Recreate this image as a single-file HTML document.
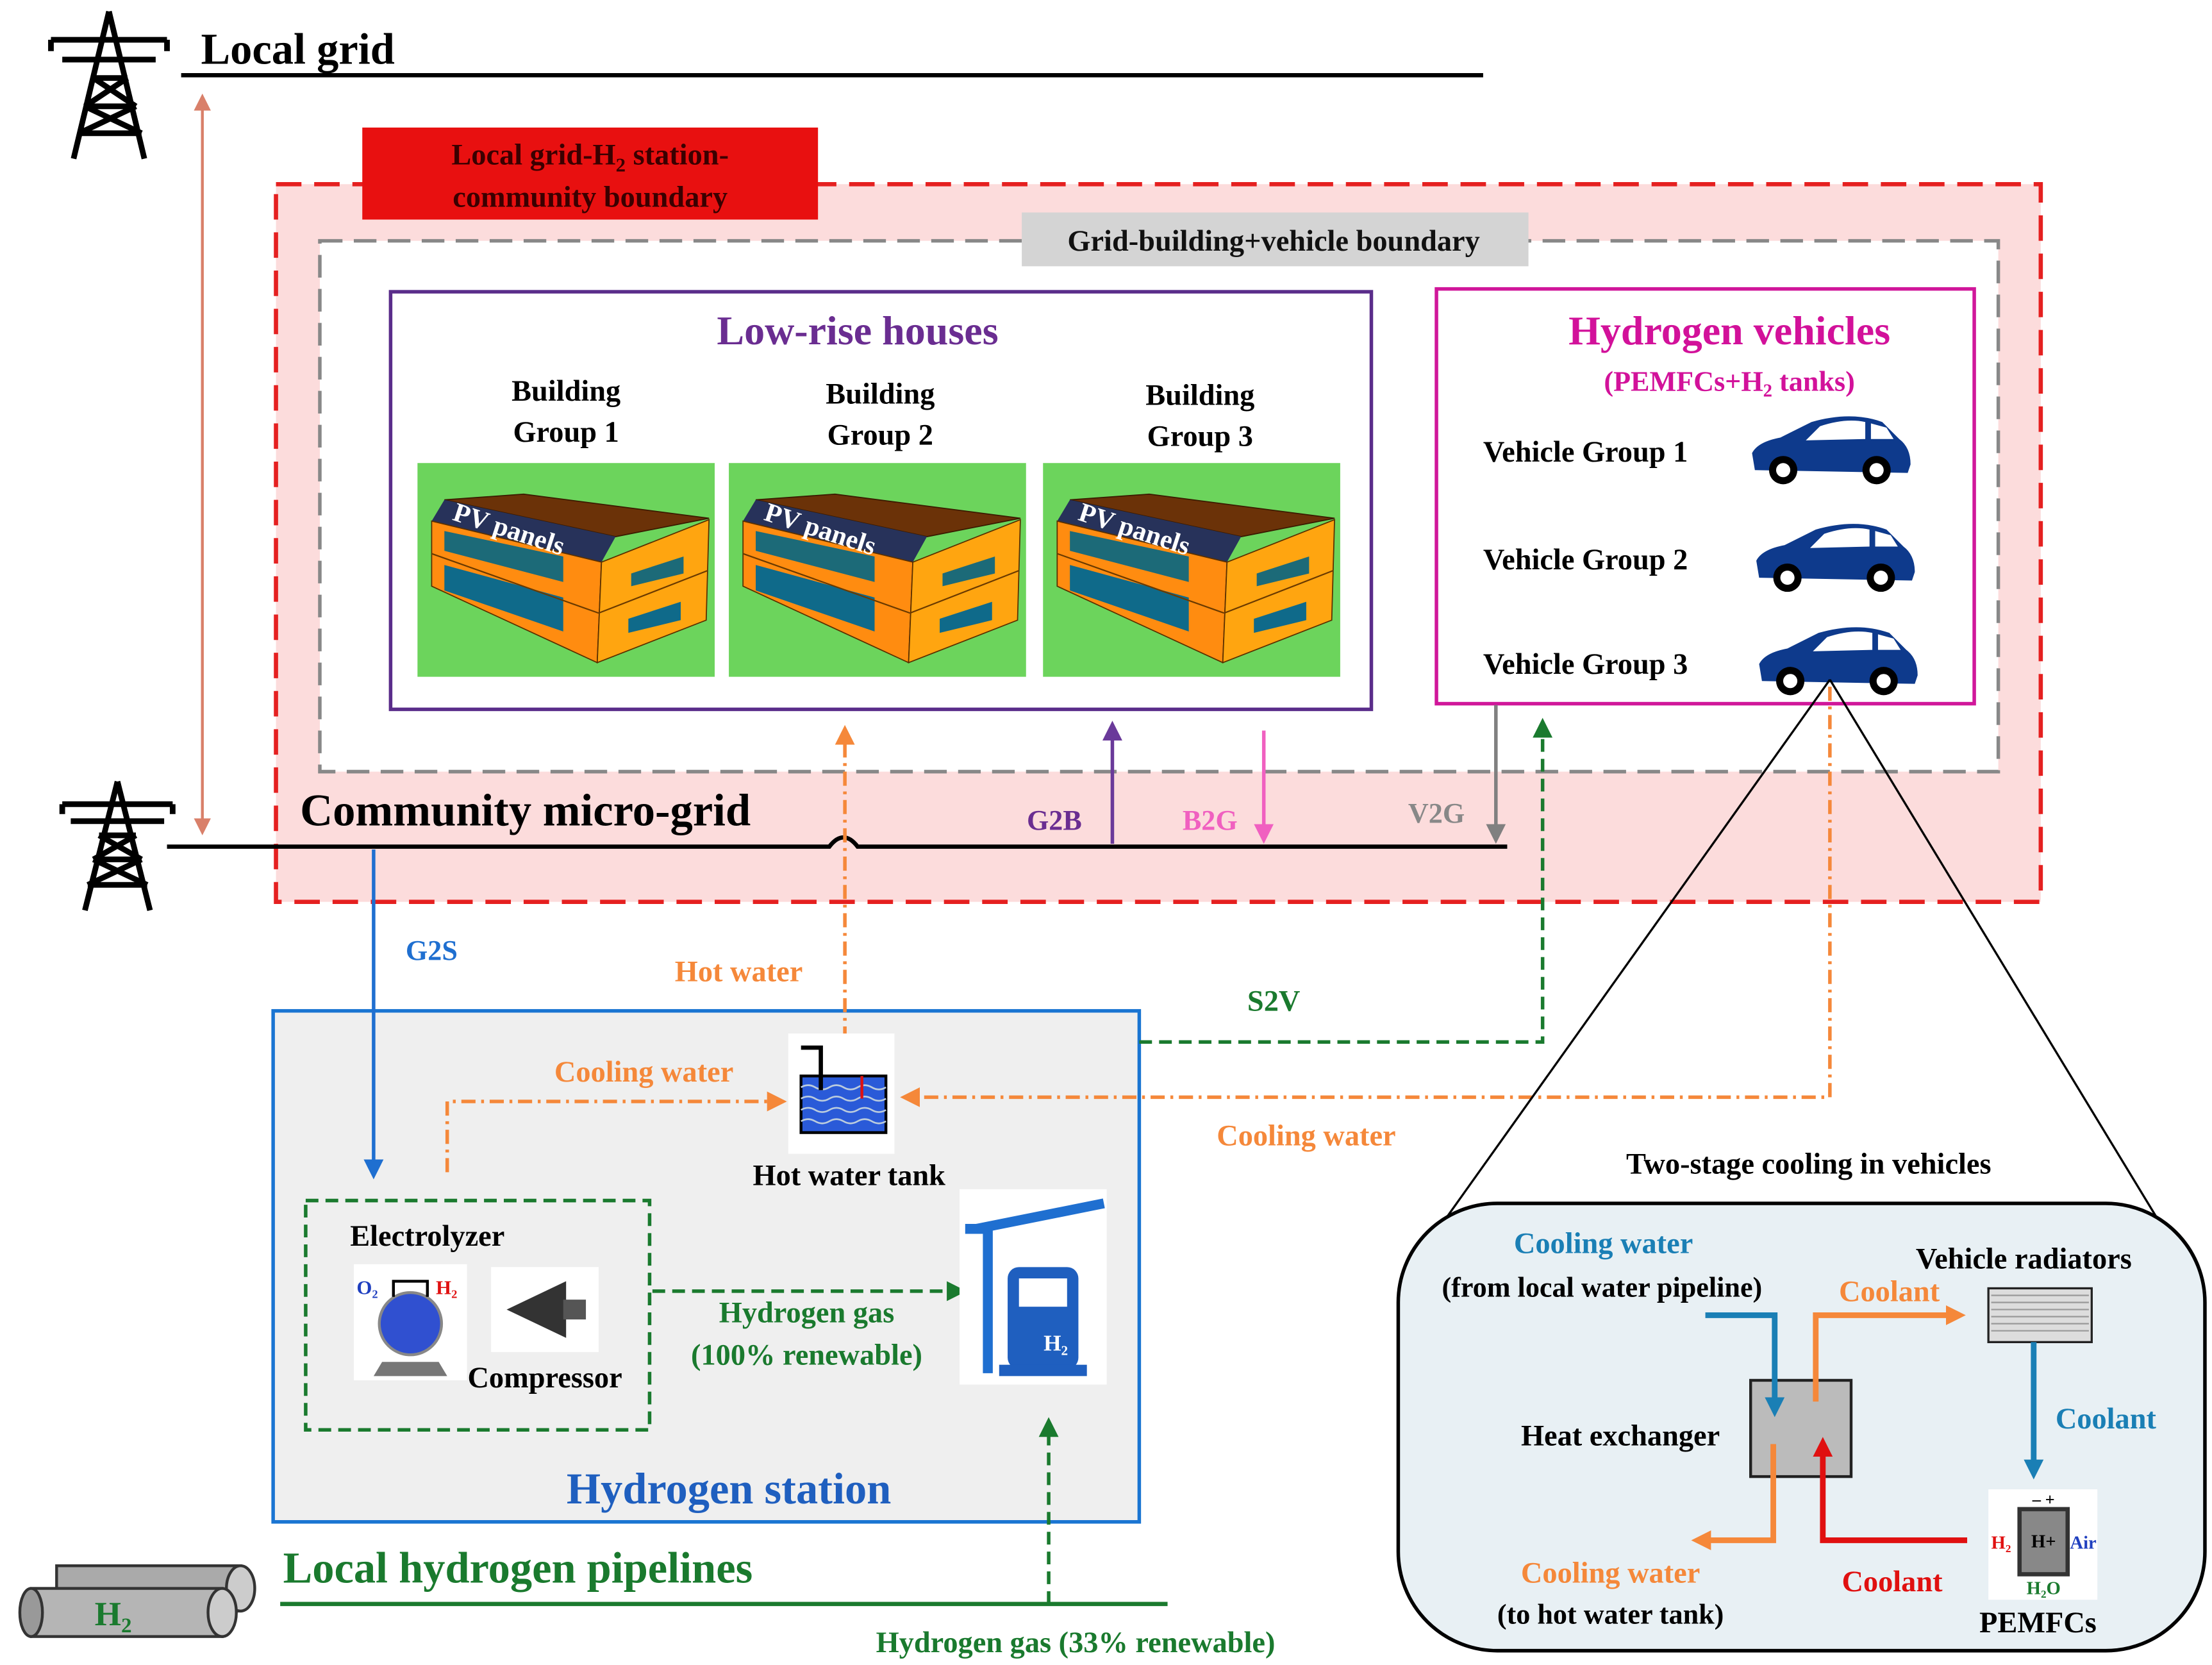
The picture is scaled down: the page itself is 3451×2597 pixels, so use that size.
<!DOCTYPE html>
<html><head><meta charset="utf-8"><style>
html,body{margin:0;padding:0;background:#fff;}
svg{display:block;}
text{font-family:"Liberation Serif",serif;font-weight:bold;}
</style></head><body>
<svg width="3451" height="2597" viewBox="0 0 1563 1176" xmlns="http://www.w3.org/2000/svg">
<defs>
<marker id="aOL" viewBox="0 0 10 10" markerWidth="14" markerHeight="14" refX="5" refY="5" orient="auto" markerUnits="userSpaceOnUse"><path d="M0,0 L10,5 L0,10z" fill="#f5883a"/></marker>
<marker id="aG" viewBox="0 0 10 10" markerWidth="14" markerHeight="14" refX="5" refY="5" orient="auto" markerUnits="userSpaceOnUse"><path d="M0,0 L10,5 L0,10z" fill="#1a7a2e"/></marker>
<marker id="aB" viewBox="0 0 10 10" markerWidth="14" markerHeight="14" refX="5" refY="5" orient="auto" markerUnits="userSpaceOnUse"><path d="M0,0 L10,5 L0,10z" fill="#1f6fd0"/></marker>
<marker id="aBl" viewBox="0 0 10 10" markerWidth="14" markerHeight="14" refX="5" refY="5" orient="auto" markerUnits="userSpaceOnUse"><path d="M0,0 L10,5 L0,10z" fill="#1a7fb5"/></marker>
<marker id="aP" viewBox="0 0 10 10" markerWidth="14" markerHeight="14" refX="5" refY="5" orient="auto" markerUnits="userSpaceOnUse"><path d="M0,0 L10,5 L0,10z" fill="#6a3a9a"/></marker>
<marker id="aPk" viewBox="0 0 10 10" markerWidth="14" markerHeight="14" refX="5" refY="5" orient="auto" markerUnits="userSpaceOnUse"><path d="M0,0 L10,5 L0,10z" fill="#f060c0"/></marker>
<marker id="aGr" viewBox="0 0 10 10" markerWidth="14" markerHeight="14" refX="5" refY="5" orient="auto" markerUnits="userSpaceOnUse"><path d="M0,0 L10,5 L0,10z" fill="#808080"/></marker>
<marker id="aR" viewBox="0 0 10 10" markerWidth="14" markerHeight="14" refX="5" refY="5" orient="auto" markerUnits="userSpaceOnUse"><path d="M0,0 L10,5 L0,10z" fill="#e01010"/></marker>
<marker id="aS" viewBox="0 0 10 10" markerWidth="12" markerHeight="12" refX="5" refY="5" orient="auto-start-reverse" markerUnits="userSpaceOnUse"><path d="M0,0 L10,5 L0,10z" fill="#d9806a"/></marker>
</defs>

<g stroke="#000" stroke-width="4" fill="none">
<path d="M77,8 L52,112 M77,8 L102,112 M36,28 L118,28 M44,42 L110,42 M66,55 L90,55 M60,75 L96,75 M56,94 L100,94 M66,55 L96,75 M90,55 L60,75 M60,75 L100,94 M96,75 L56,94 M36,28 L36,36 M118,28 L118,36"/>
</g>
<text x="142" y="45" font-size="31">Local grid</text>
<line x1="128" y1="53" x2="1048" y2="53" stroke="#000" stroke-width="3"/>

<rect x="195" y="130" width="1247" height="507" fill="#fcdcdc" stroke="#e52020" stroke-width="3" stroke-dasharray="18,9"/>
<rect x="256" y="90" width="322" height="65" fill="#e81010"/>
<text x="417" y="116" font-size="21" text-anchor="middle" fill="#3a0000">Local grid-H<tspan font-size="14" dy="5">2</tspan><tspan dy="-5"> station-</tspan></text>
<text x="417" y="146" font-size="21" text-anchor="middle" fill="#3a0000">community boundary</text>

<rect x="226" y="170" width="1186" height="375" fill="#fff" stroke="#888" stroke-width="2.5" stroke-dasharray="16,8"/>
<rect x="722" y="150" width="358" height="38" fill="#d4d4d4"/>
<text x="900" y="177" font-size="21" text-anchor="middle" fill="#111">Grid-building+vehicle boundary</text>

<rect x="276" y="206" width="693" height="295" fill="#fff" stroke="#5a2d8a" stroke-width="2.5"/>
<text x="606" y="243" font-size="29" text-anchor="middle" fill="#6a2d91">Low-rise houses</text>
<g font-size="21" text-anchor="middle" fill="#000">
<text x="400" y="283">Building</text><text x="400" y="312">Group 1</text>
<text x="622" y="285">Building</text><text x="622" y="314">Group 2</text>
<text x="848" y="286">Building</text><text x="848" y="315">Group 3</text>
</g>

<g transform="translate(295,327)">
<rect width="210" height="151" fill="#6cd45c"/>
<polygon points="75,22 206,39 140,52 19,26" fill="#6b3208" stroke="#3a1a00" stroke-width="0.8"/>
<polygon points="19,26 140,52 130,70 10,41" fill="#27325a"/>
<polygon points="10,41 130,70 127,141 10,87" fill="#ff8c10" stroke="#5a3000" stroke-width="0.8"/>
<polygon points="130,70 206,40 204,111 127,141" fill="#ffa510" stroke="#5a3000" stroke-width="0.8"/>
<polygon points="19,48 103,66 103,84 19,62" fill="#1c6a78"/>
<polygon points="19,72 103,95 103,119 19,90" fill="#0f6a8a"/>
<polygon points="151,78 188,66 188,78 151,87" fill="#1c6a78"/>
<polygon points="149,110 186,98 186,111 149,120" fill="#0f6a8a"/>
<line x1="10" y1="64" x2="128" y2="106" stroke="#6a3a00" stroke-width="1"/>
<line x1="128" y1="106" x2="205" y2="76" stroke="#6a3a00" stroke-width="1"/>
<text x="24" y="40" font-size="19" font-weight="normal" fill="#fff" transform="rotate(18 24 40)">PV panels</text>
</g>
<g transform="translate(515,327)">
<rect width="210" height="151" fill="#6cd45c"/>
<polygon points="75,22 206,39 140,52 19,26" fill="#6b3208" stroke="#3a1a00" stroke-width="0.8"/>
<polygon points="19,26 140,52 130,70 10,41" fill="#27325a"/>
<polygon points="10,41 130,70 127,141 10,87" fill="#ff8c10" stroke="#5a3000" stroke-width="0.8"/>
<polygon points="130,70 206,40 204,111 127,141" fill="#ffa510" stroke="#5a3000" stroke-width="0.8"/>
<polygon points="19,48 103,66 103,84 19,62" fill="#1c6a78"/>
<polygon points="19,72 103,95 103,119 19,90" fill="#0f6a8a"/>
<polygon points="151,78 188,66 188,78 151,87" fill="#1c6a78"/>
<polygon points="149,110 186,98 186,111 149,120" fill="#0f6a8a"/>
<line x1="10" y1="64" x2="128" y2="106" stroke="#6a3a00" stroke-width="1"/>
<line x1="128" y1="106" x2="205" y2="76" stroke="#6a3a00" stroke-width="1"/>
<text x="24" y="40" font-size="19" font-weight="normal" fill="#fff" transform="rotate(18 24 40)">PV panels</text>
</g>
<g transform="translate(737,327)">
<rect width="210" height="151" fill="#6cd45c"/>
<polygon points="75,22 206,39 140,52 19,26" fill="#6b3208" stroke="#3a1a00" stroke-width="0.8"/>
<polygon points="19,26 140,52 130,70 10,41" fill="#27325a"/>
<polygon points="10,41 130,70 127,141 10,87" fill="#ff8c10" stroke="#5a3000" stroke-width="0.8"/>
<polygon points="130,70 206,40 204,111 127,141" fill="#ffa510" stroke="#5a3000" stroke-width="0.8"/>
<polygon points="19,48 103,66 103,84 19,62" fill="#1c6a78"/>
<polygon points="19,72 103,95 103,119 19,90" fill="#0f6a8a"/>
<polygon points="151,78 188,66 188,78 151,87" fill="#1c6a78"/>
<polygon points="149,110 186,98 186,111 149,120" fill="#0f6a8a"/>
<line x1="10" y1="64" x2="128" y2="106" stroke="#6a3a00" stroke-width="1"/>
<line x1="128" y1="106" x2="205" y2="76" stroke="#6a3a00" stroke-width="1"/>
<text x="24" y="40" font-size="19" font-weight="normal" fill="#fff" transform="rotate(18 24 40)">PV panels</text>
</g>

<rect x="1015" y="204" width="380" height="293" fill="#fff" stroke="#d0179a" stroke-width="2.5"/>
<text x="1222" y="243" font-size="29" text-anchor="middle" fill="#d2119a">Hydrogen vehicles</text>
<text x="1222" y="276" font-size="20" text-anchor="middle" fill="#d2119a">(PEMFCs+H<tspan font-size="13" dy="4">2</tspan><tspan dy="-4"> tanks)</tspan></text>
<g font-size="21" fill="#000">
<text x="1048" y="326">Vehicle Group 1</text>
<text x="1048" y="402">Vehicle Group 2</text>
<text x="1048" y="476">Vehicle Group 3</text>
</g>
<g transform="translate(1238,292)">
<path d="M2,40 L0,28 Q4,20 20,17 L42,6 Q70,-2 92,6 L104,18 Q112,24 112,36 L110,42 Z" fill="#0e3a8c"/>
<path d="M48,9 Q66,3 80,6 L80,18 L38,19 Z M84,7 L95,10 L100,18 L84,18Z" fill="#fff"/>
<circle cx="22" cy="40" r="10" fill="#000"/><circle cx="22" cy="40" r="5" fill="#fff"/>
<circle cx="88" cy="40" r="10" fill="#000"/><circle cx="88" cy="40" r="5" fill="#fff"/>
</g>
<g transform="translate(1241,368)">
<path d="M2,40 L0,28 Q4,20 20,17 L42,6 Q70,-2 92,6 L104,18 Q112,24 112,36 L110,42 Z" fill="#0e3a8c"/>
<path d="M48,9 Q66,3 80,6 L80,18 L38,19 Z M84,7 L95,10 L100,18 L84,18Z" fill="#fff"/>
<circle cx="22" cy="40" r="10" fill="#000"/><circle cx="22" cy="40" r="5" fill="#fff"/>
<circle cx="88" cy="40" r="10" fill="#000"/><circle cx="88" cy="40" r="5" fill="#fff"/>
</g>
<g transform="translate(1243,441)">
<path d="M2,40 L0,28 Q4,20 20,17 L42,6 Q70,-2 92,6 L104,18 Q112,24 112,36 L110,42 Z" fill="#0e3a8c"/>
<path d="M48,9 Q66,3 80,6 L80,18 L38,19 Z M84,7 L95,10 L100,18 L84,18Z" fill="#fff"/>
<circle cx="22" cy="40" r="10" fill="#000"/><circle cx="22" cy="40" r="5" fill="#fff"/>
<circle cx="88" cy="40" r="10" fill="#000"/><circle cx="88" cy="40" r="5" fill="#fff"/>
</g>

<line x1="143" y1="72" x2="143" y2="584" stroke="#d9806a" stroke-width="2" marker-start="url(#aS)" marker-end="url(#aS)"/>

<g stroke="#000" stroke-width="4" fill="none">
<path d="M83,552 L60,643 M83,552 L106,643 M44,568 L122,568 M50,580 L116,580 M70,590 L96,590 M66,607 L100,607 M62,625 L104,625 M70,590 L100,607 M96,590 L66,607 M66,607 L104,625 M100,607 L62,625 M44,568 L44,575 M122,568 L122,575"/>
</g>
<text x="212" y="583" font-size="32" fill="#000">Community micro-grid</text>
<path d="M118,598 L586,598 Q596,585 606,598 L1065,598" stroke="#000" stroke-width="3" fill="none"/>

<line x1="786" y1="596" x2="786" y2="516" stroke="#6a3a9a" stroke-width="2.5" marker-end="url(#aP)"/>
<text x="745" y="586" font-size="20" text-anchor="middle" fill="#6a2d91">G2B</text>
<line x1="893" y1="516" x2="893" y2="589" stroke="#f060c0" stroke-width="2.5" marker-end="url(#aPk)"/>
<text x="855" y="586" font-size="20" text-anchor="middle" fill="#f060c0">B2G</text>
<line x1="1057" y1="498" x2="1057" y2="589" stroke="#808080" stroke-width="2.5" marker-end="url(#aGr)"/>
<text x="1015" y="581" font-size="20" text-anchor="middle" fill="#888">V2G</text>

<rect x="193" y="714" width="612" height="361" fill="#efefef" stroke="#1a75d2" stroke-width="2.5"/>
<text x="515" y="1062" font-size="31" text-anchor="middle" fill="#1f5fbf">Hydrogen station</text>

<line x1="264" y1="600" x2="264" y2="826" stroke="#1f6fd0" stroke-width="2.5" marker-end="url(#aB)"/>
<text x="305" y="678" font-size="20" text-anchor="middle" fill="#1f6fd0">G2S</text>

<line x1="597" y1="735" x2="597" y2="519" stroke="#f5883a" stroke-width="2.5" stroke-dasharray="10,4,2,4" marker-end="url(#aOL)"/>
<text x="522" y="693" font-size="21" text-anchor="middle" fill="#f5883a">Hot water</text>

<path d="M805,736 L1090,736 L1090,514" stroke="#1a7a2e" stroke-width="2.5" fill="none" stroke-dasharray="9,5" marker-end="url(#aG)"/>
<text x="900" y="714" font-size="21" text-anchor="middle" fill="#1a7a2e">S2V</text>

<rect x="557" y="730" width="75" height="85" fill="#fff"/>
<rect x="566" y="760" width="60" height="40" fill="#2a5ad8" stroke="#000" stroke-width="2"/>
<path d="M566,768 q5,-3 10,0 t10,0 t10,0 t10,0 t10,0 t10,0 M566,776 q5,-3 10,0 t10,0 t10,0 t10,0 t10,0 t10,0 M566,784 q5,-3 10,0 t10,0 t10,0 t10,0 t10,0 t10,0 M566,792 q5,-3 10,0 t10,0 t10,0 t10,0 t10,0 t10,0" stroke="#bcd" stroke-width="1.2" fill="none"/>
<path d="M566,740 L580,740 L580,770" stroke="#000" stroke-width="3" fill="none"/>
<line x1="609" y1="760" x2="609" y2="776" stroke="#e01010" stroke-width="2"/>
<text x="600" y="837" font-size="21" text-anchor="middle" fill="#000">Hot water tank</text>

<path d="M316,828 L316,778 L549,778" stroke="#f5883a" stroke-width="2.5" fill="none" stroke-dasharray="10,4,2,4" marker-end="url(#aOL)"/>
<text x="455" y="764" font-size="21" text-anchor="middle" fill="#f5883a">Cooling water</text>
<path d="M1293,485 L1293,775 L643,775" stroke="#f5883a" stroke-width="2.5" fill="none" stroke-dasharray="10,4,2,4" marker-end="url(#aOL)"/>
<text x="923" y="809" font-size="21" text-anchor="middle" fill="#f5883a">Cooling water</text>

<rect x="216" y="848" width="243" height="162" fill="none" stroke="#1a7a2e" stroke-width="2.5" stroke-dasharray="9,5"/>
<text x="302" y="880" font-size="21" text-anchor="middle" fill="#000">Electrolyzer</text>
<rect x="250" y="893" width="80" height="82" fill="#fff"/>
<circle cx="290" cy="935" r="22" fill="#3050d0" stroke="#888" stroke-width="2"/>
<path d="M270,962 L310,962 L316,972 L264,972Z" fill="#777"/>
<text x="252" y="914" font-size="14" fill="#1f3fbf" font-weight="normal">O₂</text>
<text x="308" y="914" font-size="14" fill="#e01010" font-weight="normal">H₂</text>
<path d="M278,916 L278,905 L302,905 L302,916" stroke="#000" stroke-width="2" fill="none"/>
<rect x="347" y="895" width="76" height="60" fill="#fff"/>
<path d="M358,925 L400,905 L400,945Z" fill="#333"/>
<rect x="398" y="918" width="16" height="14" fill="#555"/>
<text x="385" y="980" font-size="21" text-anchor="middle" fill="#000">Compressor</text>

<line x1="461" y1="912" x2="676" y2="912" stroke="#1a7a2e" stroke-width="2.5" stroke-dasharray="9,5" marker-end="url(#aG)"/>
<text x="570" y="934" font-size="21" text-anchor="middle" fill="#1a7a2e">Hydrogen gas</text>
<text x="570" y="964" font-size="21" text-anchor="middle" fill="#1a7a2e">(100% renewable)</text>

<rect x="678" y="840" width="104" height="138" fill="#fff"/>
<path d="M682,868 L698,868 L698,970" stroke="#1f6fd0" stroke-width="7" fill="none"/>
<path d="M690,868 L780,850" stroke="#1f6fd0" stroke-width="7"/>
<rect x="712" y="895" width="50" height="72" rx="8" fill="#1f5fbf"/>
<rect x="720" y="903" width="34" height="20" fill="#fff"/>
<rect x="706" y="964" width="62" height="8" fill="#1f5fbf"/>
<text x="746" y="954" font-size="16" text-anchor="middle" fill="#fff">H₂</text>

<g>
<rect x="40" y="1106" width="130" height="32" fill="#aaa" stroke="#333" stroke-width="2"/>
<ellipse cx="170" cy="1122" rx="10" ry="16" fill="#ccc" stroke="#333" stroke-width="2"/>
<rect x="22" y="1122" width="135" height="34" fill="#b5b5b5" stroke="#333" stroke-width="2"/>
<ellipse cx="22" cy="1139" rx="8" ry="17" fill="#999" stroke="#333" stroke-width="2"/>
<ellipse cx="157" cy="1139" rx="10" ry="17" fill="#ccc" stroke="#333" stroke-width="2"/>
<text x="80" y="1148" font-size="24" text-anchor="middle" fill="#1a7a2e">H<tspan font-size="15" dy="5">2</tspan></text>
</g>
<text x="200" y="1118" font-size="31" fill="#1a7a2e">Local hydrogen pipelines</text>
<line x1="198" y1="1133" x2="825" y2="1133" stroke="#1a7a2e" stroke-width="3"/>
<line x1="741" y1="1133" x2="741" y2="1008" stroke="#1a7a2e" stroke-width="2.5" stroke-dasharray="9,5" marker-end="url(#aG)"/>
<text x="760" y="1167" font-size="21" text-anchor="middle" fill="#1a7a2e">Hydrogen gas (33% renewable)</text>

<line x1="1293" y1="480" x2="1015" y2="870" stroke="#000" stroke-width="1.5"/>
<line x1="1293" y1="480" x2="1530" y2="870" stroke="#000" stroke-width="1.5"/>
<text x="1278" y="829" font-size="21" text-anchor="middle" fill="#000">Two-stage cooling in vehicles</text>
<rect x="988" y="850" width="570" height="316" rx="70" fill="#e8f0f4" stroke="#000" stroke-width="2.5"/>
<text x="1133" y="885" font-size="21" text-anchor="middle" fill="#1a7fb5">Cooling water</text>
<text x="1132" y="916" font-size="20" font-weight="normal" text-anchor="middle" fill="#000">(from local water pipeline)</text>
<text x="1430" y="896" font-size="21" text-anchor="middle" fill="#000">Vehicle radiators</text>
<text x="1335" y="919" font-size="21" text-anchor="middle" fill="#f5883a">Coolant</text>
<rect x="1237" y="975" width="71" height="68" fill="#bbb" stroke="#222" stroke-width="2"/>
<text x="1145" y="1021" font-size="21" text-anchor="middle" fill="#000">Heat exchanger</text>
<path d="M1205,929 L1254,929 L1254,994" stroke="#1a7fb5" stroke-width="4" fill="none" marker-end="url(#aBl)"/>
<path d="M1283,990 L1283,929 L1382,929" stroke="#f5883a" stroke-width="4" fill="none" marker-end="url(#aOL)"/>
<rect x="1405" y="910" width="73" height="38" fill="#ddd" stroke="#222" stroke-width="1.5"/>
<path d="M1407,915 H1476 M1407,920 H1476 M1407,925 H1476 M1407,930 H1476 M1407,935 H1476 M1407,940 H1476" stroke="#999" stroke-width="1"/>
<line x1="1437" y1="948" x2="1437" y2="1038" stroke="#1a7fb5" stroke-width="4" marker-end="url(#aBl)"/>
<text x="1488" y="1009" font-size="21" text-anchor="middle" fill="#1a7fb5">Coolant</text>
<rect x="1405" y="1052" width="77" height="78" fill="#fff"/>
<rect x="1427" y="1066" width="34" height="46" fill="#888" stroke="#333" stroke-width="3"/>
<text x="1444" y="1093" font-size="13" text-anchor="middle" fill="#000" font-family="Liberation Sans">H+</text>
<text x="1414" y="1094" font-size="13" text-anchor="middle" fill="#e01010" font-family="Liberation Sans">H₂</text>
<text x="1472" y="1094" font-size="13" text-anchor="middle" fill="#1f3fbf" font-family="Liberation Sans">Air</text>
<text x="1444" y="1126" font-size="13" text-anchor="middle" fill="#1a7a2e" font-family="Liberation Sans">H₂O</text>
<text x="1444" y="1063" font-size="12" text-anchor="middle" fill="#000">– +</text>
<text x="1440" y="1153" font-size="21" text-anchor="middle" fill="#000">PEMFCs</text>
<path d="M1390,1088 L1288,1088 L1288,1022" stroke="#e01010" stroke-width="4" fill="none" marker-end="url(#aR)"/>
<text x="1337" y="1124" font-size="21" text-anchor="middle" fill="#e01010">Coolant</text>
<path d="M1253,1020 L1253,1088 L1202,1088" stroke="#f5883a" stroke-width="4" fill="none" marker-end="url(#aOL)"/>
<text x="1138" y="1118" font-size="21" text-anchor="middle" fill="#f5883a">Cooling water</text>
<text x="1138" y="1147" font-size="20" font-weight="normal" text-anchor="middle" fill="#000">(to hot water tank)</text>
</svg>
</body></html>
